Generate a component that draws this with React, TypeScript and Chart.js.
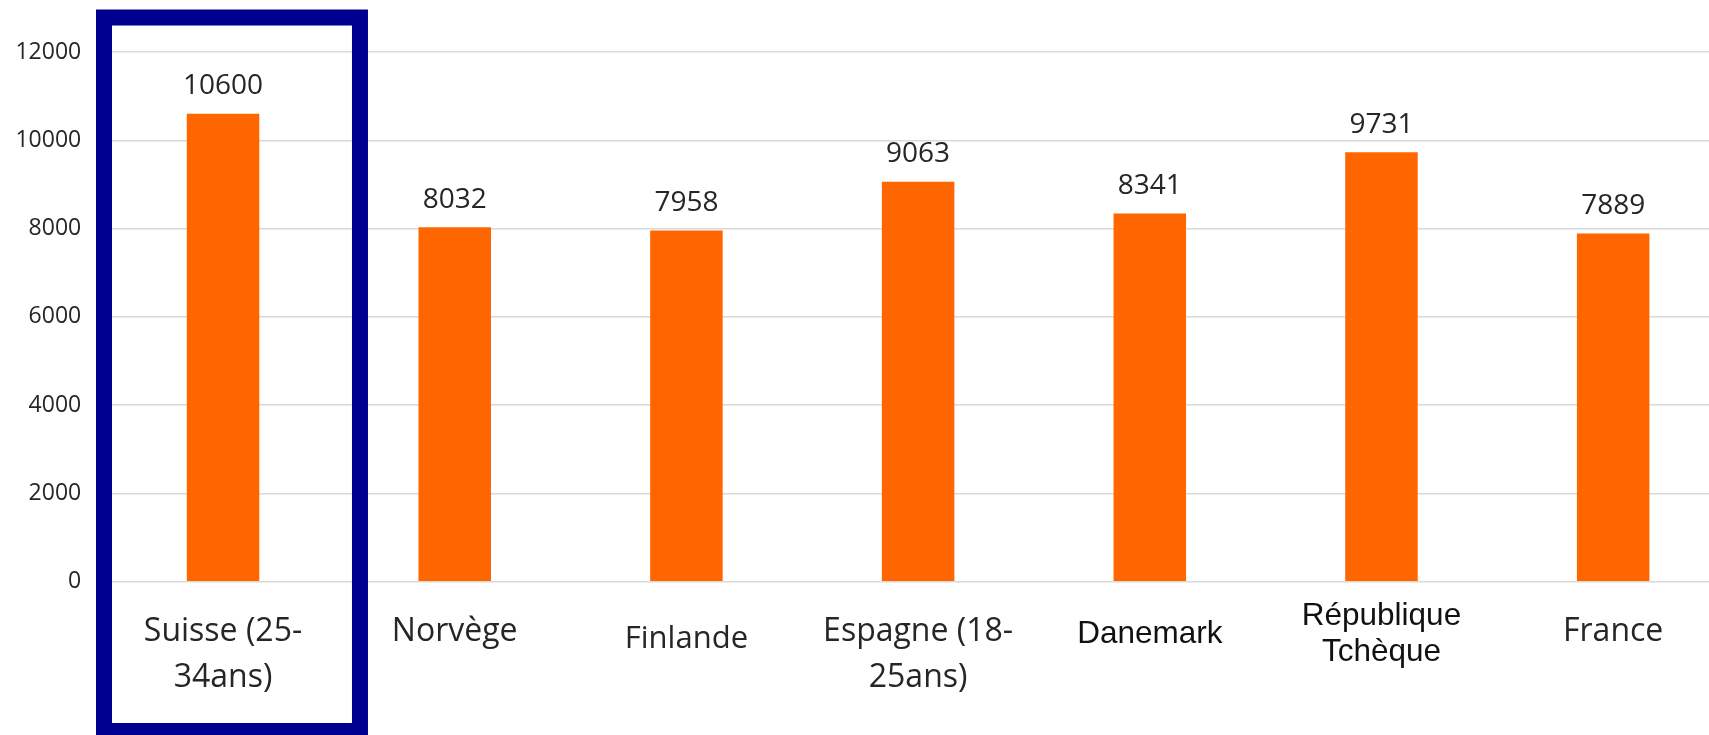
import { useEffect, useRef } from "react";
import { Chart, registerables } from "chart.js";

Chart.register(...registerables);

// Category labels (multi-line entries are split on purpose)
const categories: (string | string[])[] = [
  ["Suisse (25-", "34ans)"],
  "Norvège",
  "Finlande",
  ["Espagne (18-", "25ans)"],
  "Danemark",
  ["République", "Tchèque"],
  "France",
];

// Values per country
const values = [10600, 8032, 7958, 9063, 8341, 9731, 7889];

// Y axis tick values
const yTicks = [0, 2000, 4000, 6000, 8000, 10000, 12000];

const BAR_COLOR = "#FF6600";
const FRAME_COLOR = "#000090";
const GRID_COLOR = "#D9D9D9";
const TEXT_COLOR = "#262626";

const OPEN = "'Open Sans', 'Noto Sans', sans-serif";
const ARIAL = "'Liberation Sans', Arial, sans-serif";

type LabelStyle = { family: string; size: number; first: number; step: number; color: string };
const humanist: LabelStyle = { family: OPEN, size: 32, first: 59.5, step: 46, color: TEXT_COLOR };
const labelStyles: LabelStyle[] = [
  humanist,
  humanist,
  { family: OPEN, size: 31, first: 66.5, step: 46, color: TEXT_COLOR },
  humanist,
  { family: ARIAL, size: 31.5, first: 61, step: 35, color: "#111111" },
  { family: ARIAL, size: 31.5, first: 43.5, step: 35.5, color: "#111111" },
  humanist,
];

const decorations = {
  id: "decorations",
  afterDatasetsDraw(chart: any) {
    const { ctx, chartArea, scales } = chart;
    const xs = scales.x;
    ctx.save();

    // value labels above each bar
    const meta = chart.getDatasetMeta(0);
    ctx.font = `28px ${OPEN}`;
    ctx.fillStyle = TEXT_COLOR;
    ctx.textAlign = "center";
    ctx.textBaseline = "alphabetic";
    meta.data.forEach((bar: any, i: number) => {
      ctx.fillText(String(values[i]), bar.x, bar.y - 19.5);
    });

    // category labels under the axis
    categories.forEach((cat, i) => {
      const st = labelStyles[i];
      const lines = Array.isArray(cat) ? cat : [cat];
      ctx.font = `${st.size}px ${st.family}`;
      ctx.fillStyle = st.color;
      const cx = xs.getPixelForValue(i);
      lines.forEach((line, j) => {
        ctx.fillText(line, cx, chartArea.bottom + st.first + j * st.step);
      });
    });

    // highlight frame around the first category
    const catW = xs.getPixelForValue(1) - xs.getPixelForValue(0);
    const catLeft = xs.getPixelForValue(0) - catW / 2;
    const left = catLeft - 3.2;
    const right = catLeft + catW * 1.091;
    const top = chartArea.top - 34.5;
    const bottom = chart.height - 4;
    ctx.strokeStyle = FRAME_COLOR;
    ctx.lineWidth = 16;
    ctx.lineJoin = "miter";
    ctx.strokeRect(left, top, right - left, bottom - top);

    ctx.restore();
  },
};

export default function App() {
  const canvasRef = useRef<HTMLCanvasElement | null>(null);

  useEffect(() => {
    if (!canvasRef.current) return;
    const chart = new Chart(canvasRef.current, {
      type: "bar",
      data: {
        labels: categories as any,
        datasets: [
          {
            data: values,
            backgroundColor: BAR_COLOR,
            borderWidth: 0,
            categoryPercentage: 1,
            barPercentage: 0.313,
          },
        ],
      },
      options: {
        animation: false,
        responsive: false,
        devicePixelRatio: 1,
        layout: { padding: { top: 52, bottom: 153.3, left: 0, right: 0 } },
        plugins: { legend: { display: false }, tooltip: { enabled: false } },
        scales: {
          x: {
            grid: { display: false },
            border: { display: false },
            ticks: { display: false },
            afterFit: (s: any) => {
              s.height = 0;
            },
          },
          y: {
            min: 0,
            max: 12000,
            afterBuildTicks: (s: any) => {
              s.ticks = yTicks.map((v) => ({ value: v }));
            },
            afterFit: (s: any) => {
              s.width = 107.2;
            },
            grid: { color: GRID_COLOR, lineWidth: 1.5, drawTicks: false },
            border: { display: false },
            ticks: {
              padding: 26,
              color: TEXT_COLOR,
              font: { family: OPEN, size: 23 },
              callback: (v: any) => String(v),
            },
          },
        },
      },
      plugins: [decorations],
    });
    return () => chart.destroy();
  }, []);

  return (
    <div
      style={{
        position: "fixed",
        left: 0,
        top: 0,
        width: 1709,
        height: 735,
        overflow: "hidden",
        background: "#ffffff",
      }}
    >
      <canvas ref={canvasRef} width={1729} height={735} style={{ display: "block" }} />
    </div>
  );
}
